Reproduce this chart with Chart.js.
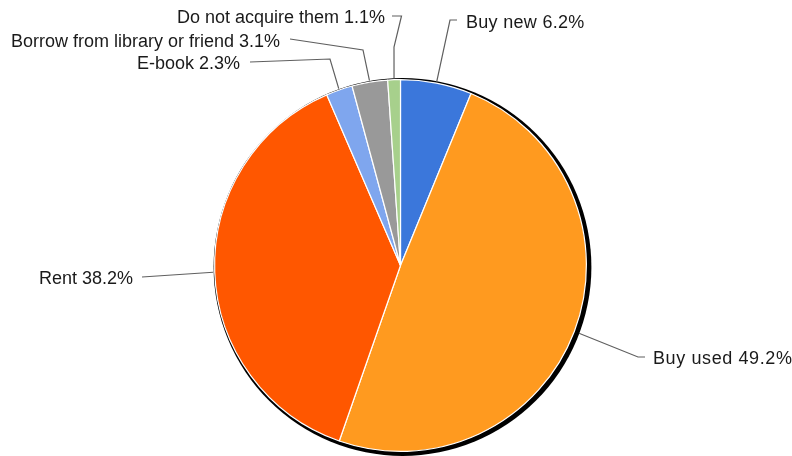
<!DOCTYPE html>
<html>
<head>
<meta charset="utf-8">
<script src="https://cdn.jsdelivr.net/npm/chart.js@4/dist/chart.umd.min.js"></script>
<style>
  html, body { margin: 0; padding: 0; background: #fff; }
  #wrap { width: 792px; height: 456px; }
</style>
</head>
<body>
<div id="wrap"><canvas id="pie" width="792" height="456"></canvas></div>
<script>
// data
const categories = ['Buy new', 'Buy used', 'Rent', 'E-book', 'Borrow from library or friend', 'Do not acquire them'];
const shares = [6.2, 49.2, 38.2, 2.3, 3.1, 1.1];
const sliceColors = ['#3b77db', '#ff9a1f', '#ff5700', '#7fa6ee', '#999999', '#a7d08c'];

// label placement: text anchor, alignment, extra letter spacing and leader bend points
const labelLayout = [
    { x: 466, y: 28, align: 'left', spacing: 0.3, bend: [[457, 20], [450, 20]] },
    { x: 653, y: 364, align: 'left', spacing: 0.6, bend: [[645, 357], [638, 357]] },
    { x: 133, y: 284, align: 'right', spacing: 0, bend: [[142, 277]] },
    { x: 240, y: 69, align: 'right', spacing: 0, bend: [[250, 62], [330, 59]] },
    { x: 280, y: 47, align: 'right', spacing: 0, bend: [[290, 39], [363, 50]] },
    { x: 385, y: 23, align: 'right', spacing: 0, bend: [[392, 16], [401.5, 16], [394, 47]] }
];

const shadowPlugin = {
    id: 'shadow',
    beforeDatasetsDraw(chart) {
        const arc = chart.getDatasetMeta(0).data[0];
        if (!arc) return;
        const ctx = chart.ctx;
        ctx.save();
        ctx.beginPath();
        ctx.arc(arc.x + 2, arc.y + 1.5, arc.outerRadius + 3, 0, Math.PI * 2);
        ctx.fillStyle = '#000';
        ctx.fill();
        ctx.restore();
    }
};

const labelPlugin = {
    id: 'leaderLabels',
    afterDatasetsDraw(chart) {
        const ctx = chart.ctx;
        const meta = chart.getDatasetMeta(0);
        ctx.save();
        ctx.font = '18px "Liberation Sans", Arial, sans-serif';
        ctx.textBaseline = 'alphabetic';
        meta.data.forEach((arc, i) => {
            const lay = labelLayout[i];
            const mid = (arc.startAngle + arc.endAngle) / 2;
            const rr = arc.outerRadius + (i === 1 ? 5 : 1.5);
            const ex = arc.x + Math.cos(mid) * rr;
            const ey = arc.y + Math.sin(mid) * rr;

            ctx.beginPath();
            ctx.moveTo(lay.bend[0][0], lay.bend[0][1]);
            for (let k = 1; k < lay.bend.length; k++) ctx.lineTo(lay.bend[k][0], lay.bend[k][1]);
            ctx.lineTo(ex, ey);
            ctx.strokeStyle = '#5f5f5f';
            ctx.lineWidth = 1.2;
            ctx.stroke();

            ctx.fillStyle = '#1a1a1a';
            ctx.textAlign = lay.align;
            ctx.letterSpacing = lay.spacing + 'px';
            ctx.fillText(categories[i] + ' ' + shares[i].toFixed(1) + '%', lay.x, lay.y);
        });
        ctx.restore();
    }
};

new Chart(document.getElementById('pie').getContext('2d'), {
    type: 'pie',
    data: {
        labels: categories,
        datasets: [{
            data: shares,
            backgroundColor: sliceColors,
            borderColor: '#ffffff',
            borderWidth: 1.2
        }]
    },
    options: {
        responsive: false,
        animation: false,
        layout: { padding: { left: 214, top: 79, right: 205, bottom: 4 } },
        plugins: {
            legend: { display: false },
            tooltip: { enabled: false }
        }
    },
    plugins: [shadowPlugin, labelPlugin]
});
</script>
</body>
</html>
